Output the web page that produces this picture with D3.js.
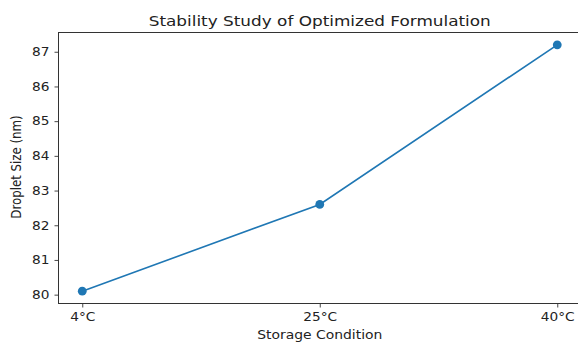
<!DOCTYPE html>
<html><head><meta charset="utf-8">
<script src="https://cdn.jsdelivr.net/npm/d3@7"></script>
<style>body{margin:0;background:#fff}svg{display:block}text{font-family:"DejaVu Sans",sans-serif;fill:#222}</style>
</head><body><svg id="c" width="578" height="342"></svg>
<script>
const categories = ["4°C", "25°C", "40°C"];
const values = [80.1, 82.6, 87.2];
const yTicks = [80, 81, 82, 83, 84, 85, 86, 87];
const title = "Stability Study of Optimized Formulation";
const xLabel = "Storage Condition";
const yLabel = "Droplet Size (nm)";

const svg = d3.select("#c");
const L = 58.5, R = 581, T = 32.5, B = 303.5;
const SX = 1.16;
const x = d3.scaleLinear().domain([-0.1, categories.length - 1 + 0.1]).range([L, R]);
const lo = d3.min(values), hi = d3.max(values), m = (hi - lo) * 0.05;
const y = d3.scaleLinear().domain([lo - m, hi + m]).range([B, T]);
const color = "#1f77b4";

const xAxis = d3.axisBottom(x).tickValues(categories.map((d, i) => i)).tickFormat(i => categories[i]).tickSize(4).tickPadding(5);
const yAxis = d3.axisLeft(y).tickValues(yTicks).tickSize(4).tickPadding(5);

const gx = svg.append("g").attr("transform", `translate(0,${B})`).call(xAxis);
const gy = svg.append("g").attr("transform", `translate(${L},0)`).call(yAxis);
[gx, gy].forEach(g => {
  g.select(".domain").remove();
  g.selectAll("line").attr("stroke", "#333").attr("stroke-width", 0.9);
  g.selectAll("text").style("font-size", "11.8px").attr("fill", "#222").each(function () {
    const t = d3.select(this);
    const tx = +t.attr("x") || 0;
    t.attr("x", 0).attr("transform", `translate(${tx},0) scale(${SX},1)`);
  });
});
svg.append("rect").attr("x", L).attr("y", T).attr("width", R - L).attr("height", B - T)
  .attr("fill", "none").attr("stroke", "#333").attr("stroke-width", 1);

const line = d3.line().x((d, i) => x(i)).y(d => y(d));
svg.append("path").datum(values).attr("d", line).attr("fill", "none").attr("stroke", color).attr("stroke-width", 1.6);
svg.selectAll("circle.pt").data(values).join("circle").attr("class", "pt")
  .attr("cx", (d, i) => x(i)).attr("cy", d => y(d)).attr("r", 4.4).attr("fill", color);

svg.append("text").attr("transform", `translate(${(L + R) / 2},26) scale(${SX + 0.02},1)`).attr("text-anchor", "middle").style("font-size", "14.3px").text(title);
svg.append("text").attr("transform", `translate(${(L + R) / 2},339) scale(${SX + 0.02},1)`).attr("text-anchor", "middle").style("font-size", "11.8px").text(xLabel);
svg.append("text").attr("transform", `translate(21,167) scale(${SX},1) rotate(-90)`).attr("text-anchor", "middle").style("font-size", "11.8px").text(yLabel);
</script></body></html>
